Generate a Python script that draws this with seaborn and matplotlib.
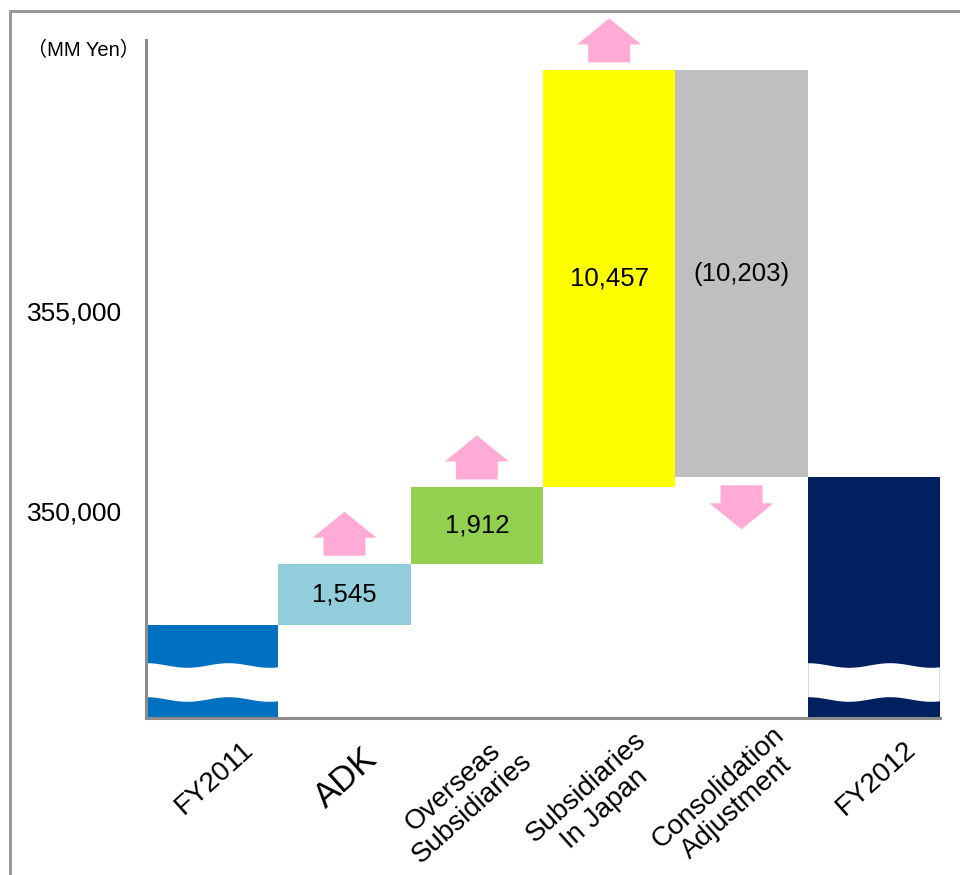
import numpy as np
import pandas as pd
import matplotlib
matplotlib.use("Agg")
import matplotlib.pyplot as plt
import seaborn as sns
from matplotlib.patches import Polygon
from matplotlib.lines import Line2D
from matplotlib.transforms import Affine2D, ScaledTranslation, blended_transform_factory

# ---- data -------------------------------------------------------------
categories = ["FY2011", "ADK", "Overseas\nSubsidiaries", "Subsidiaries\nIn Japan",
              "Consolidation\nAdjustment", "FY2012"]
start_total = 347124
changes = [1545, 1912, 10457, -10203]
change_labels = ["1,545", "1,912", "10,457", "(10,203)"]
bar_colors = ["#0070C0", "#92CDDC", "#92D050", "#FFFF00", "#BFBFBF", "#002060"]
y_ticks = [350000, 355000]
y_tick_labels = ["350,000", "355,000"]
unit_label = "（MM Yen）"

# ---- waterfall levels -------------------------------------------------
levels = np.concatenate([[start_total], start_total + np.cumsum(changes)])
end_total = levels[-1]
lows = [0] + [min(a, b) for a, b in zip(levels[:-1], levels[1:])] + [0]
highs = [start_total] + [max(a, b) for a, b in zip(levels[:-1], levels[1:])] + [end_total]

df = pd.DataFrame({"item": categories, "top": highs})

# ---- style ------------------------------------------------------------
sns.set_theme(style="white")
plt.rcParams["font.family"] = ["Liberation Sans", "Noto Sans CJK JP", "DejaVu Sans"]
plt.rcParams["text.color"] = "black"
plt.rcParams["ytick.color"] = "black"

DPI = 100
fig = plt.figure(figsize=(9.6, 8.75), dpi=DPI)
ax = fig.add_axes([146 / 960, 1 - 718 / 875, 794 / 960, 678 / 875])

sns.barplot(data=df, x="item", y="top", hue="item", palette=bar_colors,
            width=1.0, saturation=1, legend=False, errorbar=None,
            linewidth=0, edgecolor="none", ax=ax)

# floating segments: move each bar to its own base
for patch, lo, hi in zip(ax.patches, lows, highs):
    patch.set_y(lo)
    patch.set_height(hi - lo)

ax.set_xlim(-0.5, len(categories) - 0.5)
ax.set_ylim(344800, 361800)
ax.set_xlabel("")
ax.set_ylabel("")
ax.set_xticks(range(len(categories)))
ax.set_xticklabels([])
ax.set_yticks(y_ticks, y_tick_labels)
ax.tick_params(axis="y", length=0, pad=17, labelsize=19)
ax.tick_params(axis="x", length=0)
sns.despine(ax=ax)
for side in ("left", "bottom"):
    ax.spines[side].set_color("#8C8C8C")
    ax.spines[side].set_linewidth(2.2)
    ax.spines[side].set_zorder(5)

# value labels on the change bars
for i, (chg, lab) in enumerate(zip(changes, change_labels), start=1):
    ax.text(i, (lows[i] + highs[i]) / 2, lab, ha="center", va="center",
            fontsize=18.5, zorder=6)

# pink direction arrows (shape in pixels, anchored at bar edge)
arrow_shape = np.array([(-21, 8), (21, 8), (21, 26), (32, 26), (0, 52),
                        (-32, 26), (-21, 26)], dtype=float)
for i, chg in enumerate(changes, start=1):
    sign = 1 if chg > 0 else -1
    anchor = highs[i] if chg > 0 else lows[i]
    tr = Affine2D().scale(1, sign) + ScaledTranslation(i, anchor, ax.transData)
    ax.add_patch(Polygon(arrow_shape, closed=True, facecolor="#FFABD6",
                         edgecolor="none", transform=tr, clip_on=False, zorder=4))

# wavy break band on the total bars
blend = blended_transform_factory(ax.transData, ax.transAxes)
ax_h = 678.0
for i in (0, len(categories) - 1):
    xs = np.linspace(i - 0.5, i + 0.495, 200)
    wave = 2.3 * np.cos(2 * np.pi * (xs - (i - 0.5)) / 0.62) / ax_h
    upper = 53 / ax_h + wave
    lower = 19 / ax_h + wave
    ax.fill_between(xs, lower, upper, transform=blend, color="white",
                    linewidth=0, zorder=3)

# rotated category labels under the axis
px2pt = 72.0 / DPI
for i, name in enumerate(categories):
    nl = name.count("\n")
    dx = (2 - 16 * nl) * px2pt
    dy = (-60 - 20 * nl) * px2pt
    ax.annotate(name, xy=(i, 0), xycoords=("data", "axes fraction"),
                xytext=(dx, dy), textcoords="offset points",
                rotation=42, rotation_mode="anchor", ha="center", va="center",
                multialignment="center", fontsize=25 if name == "ADK" else 20,
                linespacing=1.1, annotation_clip=False)

# unit caption and outer frame
fig.text(27 / 960, 1 - 50 / 875, unit_label, ha="left", va="center", fontsize=14.5)
fig.add_artist(Line2D([10 / 960, 1.0], [1 - 11 / 875, 1 - 11 / 875],
                      color="#999999", linewidth=2.2))
fig.add_artist(Line2D([10 / 960, 10 / 960], [0.0, 1 - 11 / 875],
                      color="#999999", linewidth=2.2))

fig.savefig("out.png", dpi=DPI, facecolor="white")
